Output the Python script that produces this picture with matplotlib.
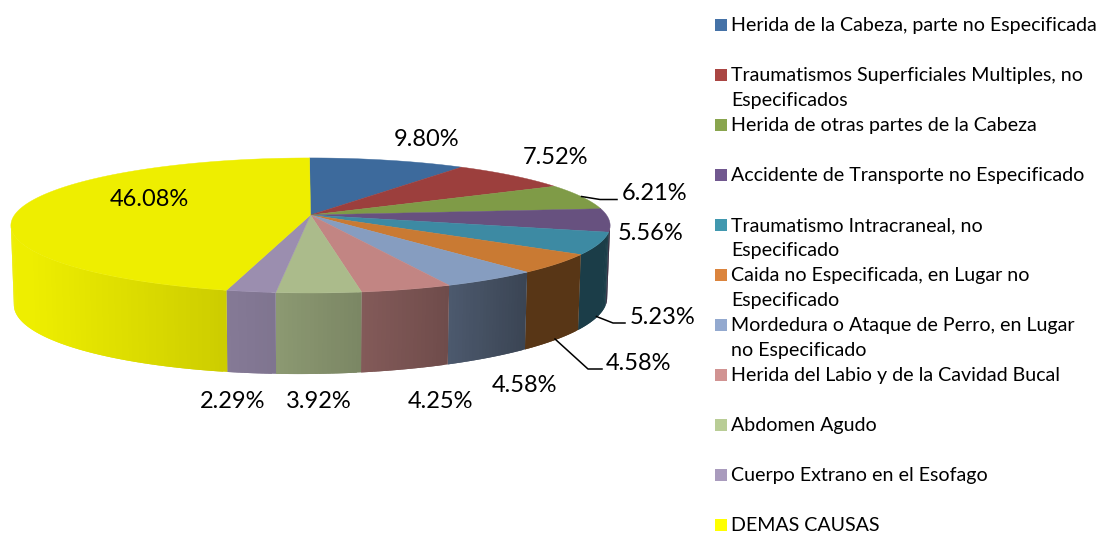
import numpy as np
import matplotlib
matplotlib.use("Agg")
import matplotlib.pyplot as plt
from matplotlib.patches import Rectangle

plt.rcParams['font.family'] = ['Lato', 'DejaVu Sans']

categories = [
    "Herida de la Cabeza, parte no Especificada",
    "Traumatismos Superficiales Multiples, no\nEspecificados",
    "Herida de otras partes de la Cabeza",
    "Accidente de Transporte no Especificado",
    "Traumatismo Intracraneal, no\nEspecificado",
    "Caida no Especificada, en Lugar no\nEspecificado",
    "Mordedura o Ataque de Perro, en Lugar\nno Especificado",
    "Herida del Labio y de la Cavidad Bucal",
    "Abdomen Agudo",
    "Cuerpo Extrano en el Esofago",
    "DEMAS CAUSAS",
]
values = [9.80, 7.52, 6.21, 5.56, 5.23, 4.58, 4.58, 4.25, 3.92, 2.29, 46.08]

legend_colors = ['#4572A7', '#AA4643', '#89A54E', '#71588F', '#4198AF', '#DB843D',
                 '#93A9CF', '#D19392', '#B9CD96', '#A99BBD', '#FFFF00']
top_colors = ['#3D6A9C', '#9C3F3D', '#7F9B47', '#67517F', '#3D8AA3', '#C97A33',
              '#869DC0', '#C28583', '#ABBB8B', '#9B8EAF', '#EEEE00']

# where each value label sits on the picture
label_pos = [(427, 137), (555, 156), (655, 191), (651, 232), (663, 316), (638, 362),
             (525, 384), (441, 400), (319, 400), (233, 400), (149, 198)]
leaders = [[(581.5, 196.5), (600, 199.5), (617, 199.5)],
           [(596.5, 316.5), (613, 323), (625, 323)],
           [(555, 339), (588, 369), (602, 369)]]

# ======================================================
# Fake 3D projection of the pie
# ======================================================
cx, cy = 310.5, 215
R, H, persp = 296, 65.9, 0.155
rotation = np.radians(-0.2)


def top_rim(theta):
    k = 1 + persp * np.cos(theta)
    return cx + R * np.sin(theta) / k, cy - H * np.cos(theta) / k


def low_rim(theta):
    x, y = top_rim(theta)
    depth = 75 - 6 * np.cos(theta) - 3.5 * np.sin(theta)
    return cx + (x - cx) * 0.99, y + depth


def side_shade(x):
    return np.interp(x, [10, 30, 225, 275, 360, 361, 450, 525, 610],
                     [1.0, 1.0, 0.86, 0.82, 0.72, 0.68, 0.57, 0.44, 0.44])


fig = plt.figure(figsize=(11, 5.34), dpi=100)
ax = fig.add_axes([0, 0, 1, 1])
ax.set_xlim(0, 1100)
ax.set_ylim(534, 0)
ax.axis('off')

shares = np.array(values) / np.sum(values)
edges = np.concatenate([[0], np.cumsum(shares)]) * 2 * np.pi + rotation

# side wall first, strips overlap the next one so no white shows between them
side_start, side_end = np.radians(98.9), np.radians(261.1)
for i, col in enumerate(top_colors):
    a0, a1 = max(edges[i], side_start), min(edges[i + 1], side_end)
    if a1 <= a0:
        continue
    steps = np.linspace(a0, a1, int((a1 - a0) * 80) + 2)
    base = np.array(matplotlib.colors.to_rgb(col))
    for k in range(len(steps) - 1):
        t0 = steps[k]
        t1 = steps[min(k + 2, len(steps) - 1)]
        tt = np.linspace(t0, t1, 6)
        xt, yt = top_rim(tt)
        xl, yl = low_rim(tt[::-1])
        c = base * side_shade(top_rim((steps[k] + steps[k + 1]) / 2)[0])
        ax.fill(np.r_[xt, xl], np.r_[yt, yl], color=c, lw=0)

# top face
for i, col in enumerate(top_colors):
    t = np.linspace(edges[i], edges[i + 1], 120)
    x, y = top_rim(t)
    ax.fill(np.r_[cx, x], np.r_[cy, y], color=col, lw=0.3)

# ======================================================
# Labels and leader lines
# ======================================================
for v, (lx, ly) in zip(values, label_pos):
    ax.text(lx, ly + 8.5, f"{v:.2f}%", fontsize=17, color='black', ha='center', va='baseline')

for line in leaders:
    ax.plot([p[0] for p in line], [p[1] for p in line], color='black', lw=1.1)

# ======================================================
# Legend
# ======================================================
for i, name in enumerate(categories):
    yc = 25 + 50 * i
    ax.add_patch(Rectangle((715, yc - 6), 12, 12, color=legend_colors[i], lw=0))
    for j, part in enumerate(name.split("\n")):
        ax.text(731, yc + 6 + 25 * j, part, fontsize=14.15, color='black', ha='left', va='baseline')

fig.savefig("out.png", dpi=100)
